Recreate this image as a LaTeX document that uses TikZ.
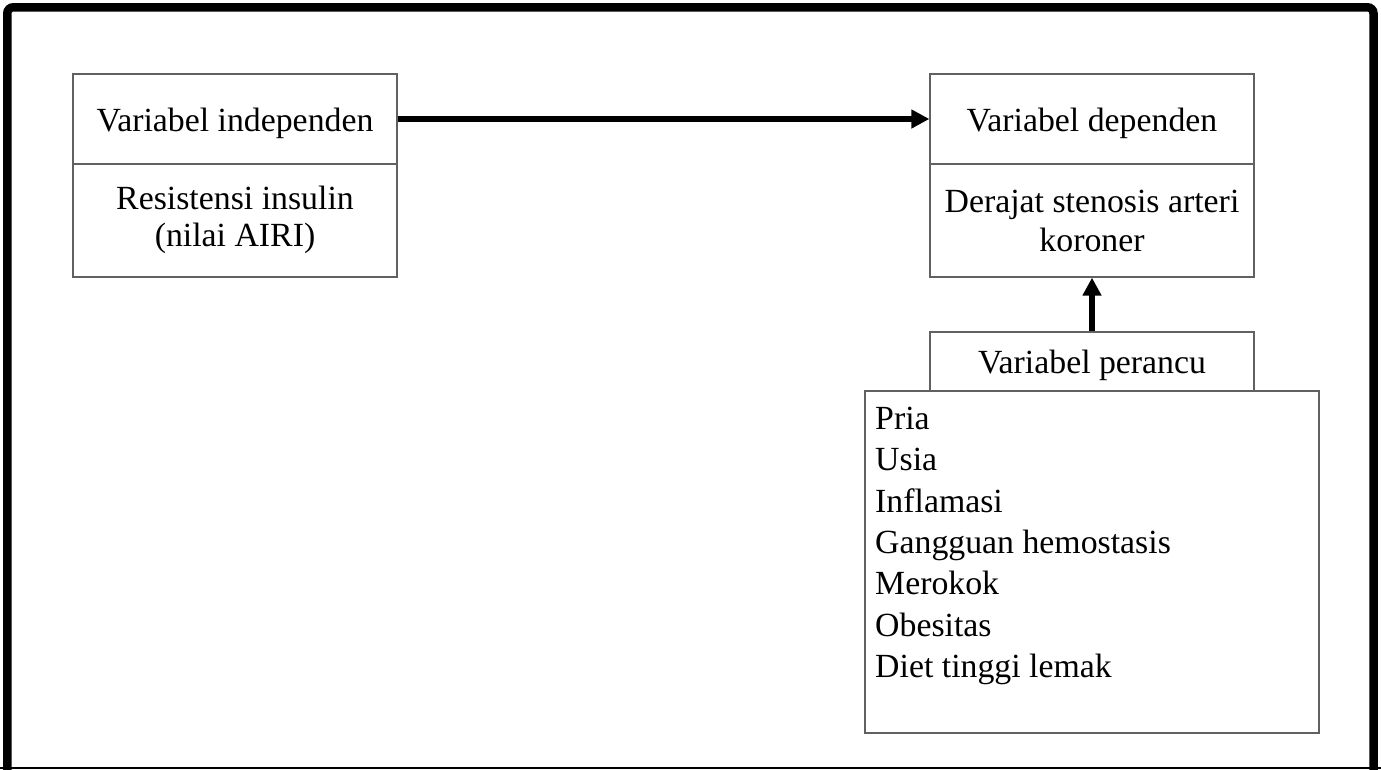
\documentclass[tikz,border=0pt]{standalone}
\usepackage{fontspec}
\setmainfont{Liberation Serif}
\usetikzlibrary{arrows.meta}
\begin{document}
\begin{tikzpicture}[x=1pt,y=-1pt,
  txt/.style={font=\fontsize{33.8}{39}\selectfont},
  cell/.style={draw=black!62, line width=1.3pt, rectangle, inner sep=0pt, txt, align=center},
  oneline/.style={text height=24pt, text depth=0pt},
  bigarrow/.style={line width=5.5pt, -{Triangle[length=18pt,width=18pt]}}]
\useasboundingbox (0,0) rectangle (1381,769);
\clip (0,0) rectangle (1381,769);
\fill[white] (0,0) rectangle (1381,769);
% outer frame
\draw[line width=8.5pt, rounded corners=6pt] (7.3,7.3) rectangle (1373.5,800);
\draw[line width=1.5pt] (0,767.8) -- (1381,767.8);
% left boxes
\node[cell, oneline, minimum width=324pt, minimum height=90pt] (indep) at (235,119) {Variabel independen};
\node[cell, minimum width=324pt, minimum height=113pt] (insulin) at (235,220.5) {\raisebox{-3pt}{\begin{tabular}{@{}c@{}}Resistensi insulin\\[-2pt](nilai AIRI)\end{tabular}}};
% right boxes
\node[cell, oneline, minimum width=324pt, minimum height=90pt] (dep) at (1092,119) {Variabel dependen};
\node[cell, minimum width=324pt, minimum height=113pt] (stenosis) at (1092,220.5) {Derajat stenosis arteri\\koroner};
% confounders
\node[cell, oneline, minimum width=324pt, minimum height=59pt] (perancu) at (1092,361.5) {Variabel perancu};
\node[cell, minimum width=454pt, minimum height=342pt] (faktor) at (1092,562) {};
\node[txt, anchor=north west, align=left, inner sep=0pt,
      font=\fontsize{33.8}{41.3}\selectfont] (daftar) at (875,407)
  {Pria\\Usia\\Inflamasi\\Gangguan hemostasis\\Merokok\\Obesitas\\Diet tinggi lemak};
% arrows
\draw[bigarrow] (indep.east) -- (dep.west);
\draw[bigarrow] (perancu.north) -- (stenosis.south);
\end{tikzpicture}
\end{document}
